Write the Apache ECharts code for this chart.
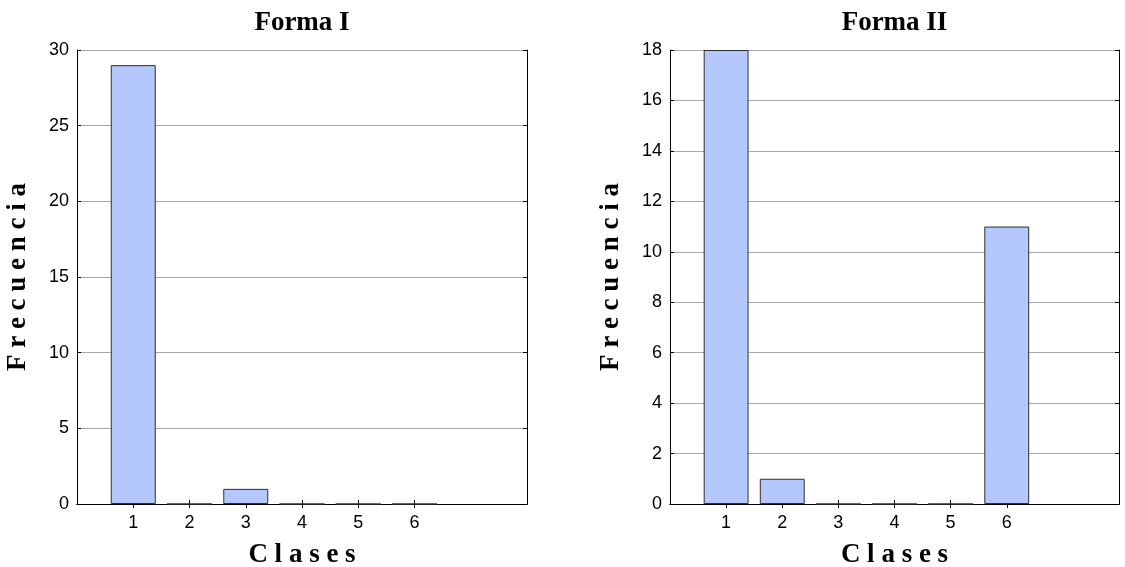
<!DOCTYPE html>
<html>
<head>
<meta charset="utf-8">
<script src="https://cdn.jsdelivr.net/npm/echarts@6/dist/echarts.min.js"></script>
<style>
html,body{margin:0;padding:0;background:#fff;}
#c{width:1125px;height:567px;}
</style>
</head>
<body>
<div id="c"></div>
<script>
// Data
const categories = ['1', '2', '3', '4', '5', '6'];
const formaI = [29, 0, 1, 0, 0, 0];
const formaII = [18, 1, 0, 0, 0, 11];
const yTicksI = { min: 0, max: 30, interval: 5 };
const yTicksII = { min: 0, max: 18, interval: 2 };
const titles = ['Forma I', 'Forma II'];
const xName = 'C l a s e s';
const yName = 'F r e c u e n c i a';

// axis runs 0..8 with bars at 1..6
const axisCats = ['0'].concat(categories, ['7', '8']);
function pad(vals) { return [null].concat(vals, [null, null]); }
const tickShow = (i) => i >= 1 && i <= categories.length;

const serifBold = { fontFamily: 'Liberation Serif', fontWeight: 'bold', fontSize: 27, color: '#000' };
const tickFont = { fontFamily: 'Liberation Sans', fontSize: 18, color: '#000' };
const lineStyle = { color: '#000', width: 1 };

const grids = [
  { left: 77, right: 598, top: 50, bottom: 63, containLabel: false, outerBoundsMode: 'none' },
  { left: 670, right: 6, top: 50, bottom: 63, containLabel: false, outerBoundsMode: 'none' }
];

const xAxes = [], yAxes = [], series = [];
[[formaI, yTicksI], [formaII, yTicksII]].forEach(([vals, yt], g) => {
  xAxes.push({
    type: 'category', gridIndex: g, position: 'bottom', data: axisCats, boundaryGap: false,
    axisLine: { lineStyle },
    axisTick: { inside: true, length: 4, interval: (i) => tickShow(i), lineStyle },
    axisLabel: Object.assign({ margin: 10, interval: (i) => tickShow(i) }, tickFont),
    splitLine: { show: false },
    name: xName, nameLocation: 'middle', nameGap: 38, nameTextStyle: serifBold
  });
  xAxes.push({
    type: 'category', gridIndex: g, position: 'top', data: axisCats, boundaryGap: false,
    axisLine: { lineStyle },
    axisTick: { inside: true, length: 4, interval: (i) => tickShow(i), lineStyle },
    axisLabel: { show: false },
    splitLine: { show: false },
    name: titles[g], nameLocation: 'middle', nameGap: 13, nameTextStyle: serifBold
  });
  yAxes.push({
    type: 'value', gridIndex: g, position: 'left', min: yt.min, max: yt.max, interval: yt.interval,
    axisLine: { show: true, lineStyle },
    axisTick: { show: true, inside: true, length: 4, lineStyle },
    axisLabel: Object.assign({ margin: 8 }, tickFont),
    splitLine: { show: true, lineStyle: { color: '#a8a8a8', width: 1 } },
    name: yName, nameLocation: 'middle', nameGap: 45, nameRotate: 90, nameTextStyle: serifBold
  });
  yAxes.push({
    type: 'value', gridIndex: g, position: 'right', min: yt.min, max: yt.max, interval: yt.interval,
    axisLine: { show: true, lineStyle },
    axisTick: { show: true, inside: true, length: 4, lineStyle },
    axisLabel: { show: false },
    splitLine: { show: false }
  });
  series.push({
    type: 'bar', xAxisIndex: g * 2, yAxisIndex: g * 2, data: pad(vals),
    barWidth: '80%',
    itemStyle: { color: '#b4c8ff', borderColor: '#2e2e2e', borderWidth: 1 },
    silent: true, animation: false
  });
});

const chart = echarts.init(document.getElementById('c'), null, { renderer: 'canvas' });
chart.setOption({
  backgroundColor: '#fff',
  animation: false,
  grid: grids,
  xAxis: xAxes,
  yAxis: yAxes,
  series: series
});
</script>
</body>
</html>
